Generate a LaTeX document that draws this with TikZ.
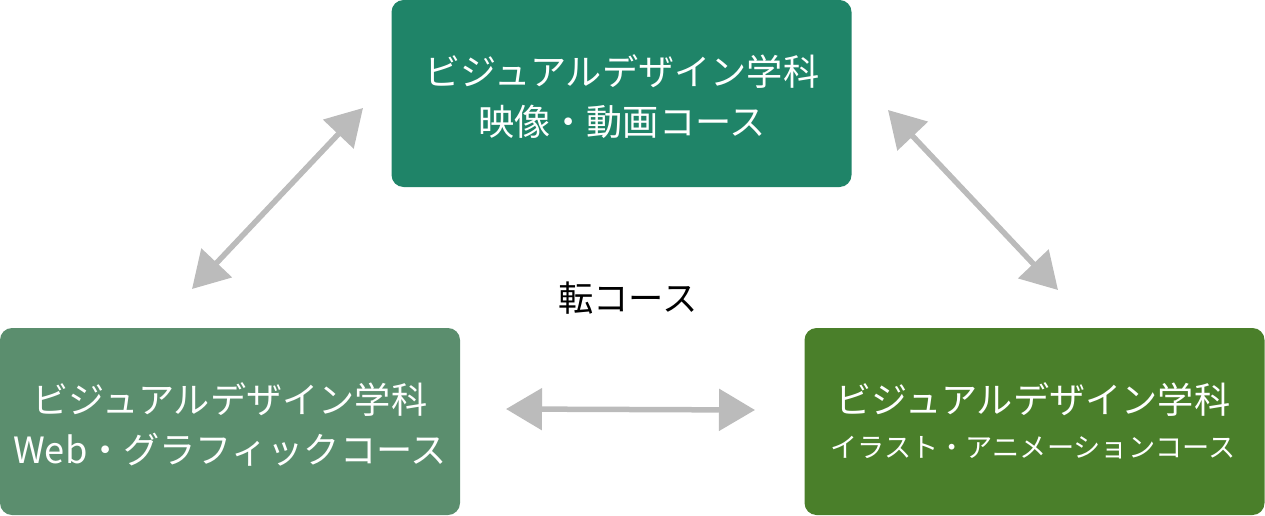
\documentclass[tikz,border=0pt]{standalone}
\usepackage{fontspec}
\setmainfont{Noto Sans CJK JP}
\usetikzlibrary{arrows.meta}
\definecolor{movie}{HTML}{1F8468}
\definecolor{webgr}{HTML}{5B8E6E}
\definecolor{illan}{HTML}{4A7F2A}
\definecolor{arrowgray}{HTML}{BBBBBB}
\tikzset{
  course/.style={rectangle, rounded corners=12pt, text=white, align=center,
    minimum width=460pt, minimum height=187pt, inner sep=0pt,
    font=\fontsize{36.2}{50}\selectfont},
  swap/.style={draw=arrowgray, line width=5.5pt,
    {Triangle[length=36pt,width=41pt]}-{Triangle[length=36pt,width=41pt]}}
}
\begin{document}
\begin{tikzpicture}[x=1pt,y=-1pt]
\useasboundingbox (0,0) rectangle (1265,516);
\node[course, fill=movie] (Movie) at (621.5, 93.5) {}; % Movie
\node[text=white, align=center, font=\fontsize{36.2}{50}\selectfont] (MovieText) at (622, 97) {ビジュアルデザイン学科\\映像・動画コース};
\node[course, fill=webgr] (Web) at (230, 421.5) {}; % Web
\node[text=white, align=center, font=\fontsize{36.2}{50}\selectfont] (WebText) at (230, 424) {ビジュアルデザイン学科\\Web・グラフィックコース};
\node[course, fill=illan] (Illust) at (1034.5, 421.5) {}; % Illust
\node[text=white, align=center, font=\fontsize{36.2}{50}\selectfont] (IllustText) at (1033, 421) {ビジュアルデザイン学科\\[-6pt]{\fontsize{27.2}{40}\selectfont イラスト・アニメーションコース}};
\node[font=\fontsize{35.3}{40}\selectfont] (Tenko) at (628, 298) {転コース}; % Tenko
\coordinate (WebTip) at (192, 289);
\coordinate (MovieTipL) at (363, 108);
\coordinate (MovieTipR) at (888, 110);
\coordinate (IllustTip) at (1058, 290);
\coordinate (WebTipH) at (506, 409);
\coordinate (IllustTipH) at (755, 410);
\draw[swap] (WebTip) -- (MovieTipL); % web - movie
\draw[swap] (MovieTipR) -- (IllustTip); % movie - illust
\draw[swap] (WebTipH) -- (IllustTipH); % web - illust
\end{tikzpicture}
\end{document}
